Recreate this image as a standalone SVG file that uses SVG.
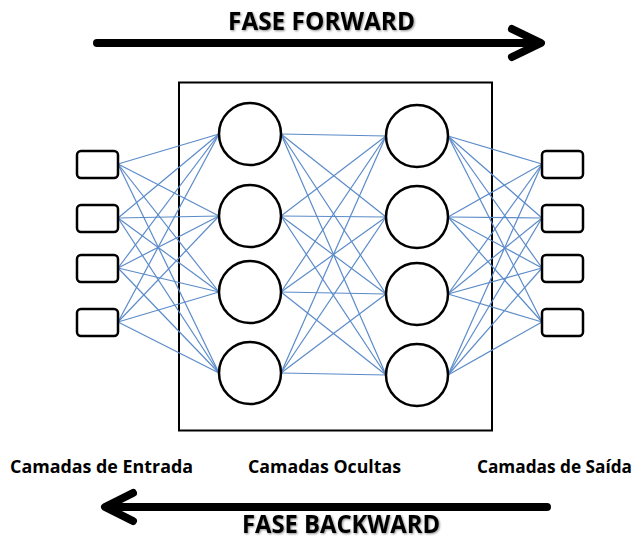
<svg xmlns="http://www.w3.org/2000/svg" width="638" height="540" viewBox="0 0 638 540">
<defs>
<style>
.lbl{font-family:"Open Sans","Liberation Sans",sans-serif;font-weight:bold;fill:#000}
.big{font-size:25px}
.sm{font-size:18px}
.box{fill:#fff;stroke:#000;stroke-width:2.5}
.neu{fill:#fff;stroke:#000;stroke-width:2.5}
.arr{fill:none;stroke:#000;stroke-width:8;stroke-linecap:round;stroke-linejoin:round}
.con line{stroke:#5B8BC9;stroke-width:1.2}
</style>
<filter id="sh" x="-5%" y="-20%" width="110%" height="130%">
<feDropShadow dx="1" dy="1" stdDeviation="0.8" flood-color="#000" flood-opacity="0.45"/>
</filter>
</defs>
<rect width="638" height="540" fill="#fff"/>
<rect id="hidden-frame" x="179" y="82.5" width="313" height="348" fill="none" stroke="#000" stroke-width="2"/>
<g id="connectors" class="con">
<line x1="118" y1="164" x2="219" y2="134"/><line x1="118" y1="164" x2="219" y2="216"/><line x1="118" y1="164" x2="219" y2="292"/><line x1="118" y1="164" x2="219" y2="373"/>
<line x1="118" y1="218" x2="219" y2="134"/><line x1="118" y1="218" x2="219" y2="216"/><line x1="118" y1="218" x2="219" y2="292"/><line x1="118" y1="218" x2="219" y2="373"/>
<line x1="118" y1="268" x2="219" y2="134"/><line x1="118" y1="268" x2="219" y2="216"/><line x1="118" y1="268" x2="219" y2="292"/><line x1="118" y1="268" x2="219" y2="373"/>
<line x1="118" y1="322" x2="219" y2="134"/><line x1="118" y1="322" x2="219" y2="216"/><line x1="118" y1="322" x2="219" y2="292"/><line x1="118" y1="322" x2="219" y2="373"/>
<line x1="281" y1="134" x2="386" y2="136"/><line x1="281" y1="134" x2="386" y2="217"/><line x1="281" y1="134" x2="386" y2="294"/><line x1="281" y1="134" x2="386" y2="375"/>
<line x1="281" y1="216" x2="386" y2="136"/><line x1="281" y1="216" x2="386" y2="217"/><line x1="281" y1="216" x2="386" y2="294"/><line x1="281" y1="216" x2="386" y2="375"/>
<line x1="281" y1="292" x2="386" y2="136"/><line x1="281" y1="292" x2="386" y2="217"/><line x1="281" y1="292" x2="386" y2="294"/><line x1="281" y1="292" x2="386" y2="375"/>
<line x1="281" y1="373" x2="386" y2="136"/><line x1="281" y1="373" x2="386" y2="217"/><line x1="281" y1="373" x2="386" y2="294"/><line x1="281" y1="373" x2="386" y2="375"/>
<line x1="448" y1="136" x2="542" y2="164"/><line x1="448" y1="136" x2="542" y2="218"/><line x1="448" y1="136" x2="542" y2="268"/><line x1="448" y1="136" x2="542" y2="322"/>
<line x1="448" y1="217" x2="542" y2="164"/><line x1="448" y1="217" x2="542" y2="218"/><line x1="448" y1="217" x2="542" y2="268"/><line x1="448" y1="217" x2="542" y2="322"/>
<line x1="448" y1="294" x2="542" y2="164"/><line x1="448" y1="294" x2="542" y2="218"/><line x1="448" y1="294" x2="542" y2="268"/><line x1="448" y1="294" x2="542" y2="322"/>
<line x1="448" y1="375" x2="542" y2="164"/><line x1="448" y1="375" x2="542" y2="218"/><line x1="448" y1="375" x2="542" y2="268"/><line x1="448" y1="375" x2="542" y2="322"/>
</g>
<g id="in1"><rect class="box" x="77" y="151" width="41" height="27" rx="4"/></g>
<g id="in2"><rect class="box" x="77" y="205" width="41" height="27" rx="4"/></g>
<g id="in3"><rect class="box" x="77" y="255" width="41" height="27" rx="4"/></g>
<g id="in4"><rect class="box" x="77" y="309" width="41" height="27" rx="4"/></g>
<g id="h1a"><circle class="neu" cx="250" cy="134" r="31"/></g>
<g id="h1b"><circle class="neu" cx="250" cy="216" r="31"/></g>
<g id="h1c"><circle class="neu" cx="250" cy="292" r="31"/></g>
<g id="h1d"><circle class="neu" cx="250" cy="373" r="31"/></g>
<g id="h2a"><circle class="neu" cx="417" cy="136" r="31"/></g>
<g id="h2b"><circle class="neu" cx="417" cy="217" r="31"/></g>
<g id="h2c"><circle class="neu" cx="417" cy="294" r="31"/></g>
<g id="h2d"><circle class="neu" cx="417" cy="375" r="31"/></g>
<g id="out1"><rect class="box" x="542" y="151" width="41" height="27" rx="4"/></g>
<g id="out2"><rect class="box" x="542" y="205" width="41" height="27" rx="4"/></g>
<g id="out3"><rect class="box" x="542" y="255" width="41" height="27" rx="4"/></g>
<g id="out4"><rect class="box" x="542" y="309" width="41" height="27" rx="4"/></g>
<g id="forward">
<path class="arr" d="M97 43 H540 M512 29 L541 43 L512 57"/>
<text class="lbl big" x="228" y="30" textLength="187" lengthAdjust="spacingAndGlyphs" filter="url(#sh)">FASE FORWARD</text>
</g>
<g id="backward">
<path class="arr" d="M547 507 H106 M133 493 L105 507 L133 521"/>
<text class="lbl big" x="242" y="533" textLength="198" lengthAdjust="spacingAndGlyphs" filter="url(#sh)">FASE BACKWARD</text>
</g>
<g id="labels">
<text class="lbl sm" x="10" y="473" textLength="183" lengthAdjust="spacingAndGlyphs">Camadas de Entrada</text>
<text class="lbl sm" x="248" y="473" textLength="153" lengthAdjust="spacingAndGlyphs">Camadas Ocultas</text>
<text class="lbl sm" x="632" y="473" text-anchor="end" textLength="155" lengthAdjust="spacingAndGlyphs">Camadas de Saída</text>
</g>
</svg>
